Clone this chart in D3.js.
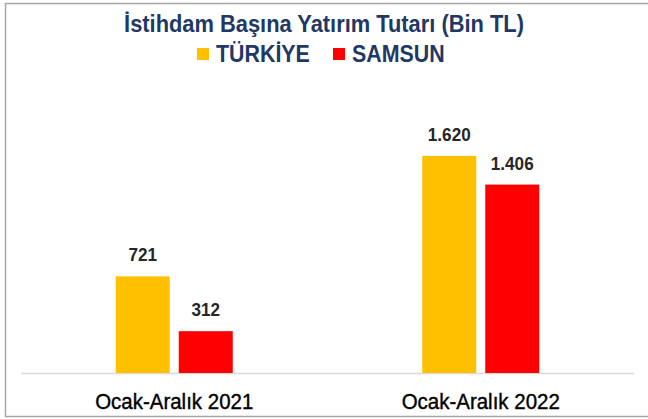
<!DOCTYPE html>
<html>
<head>
<meta charset="utf-8">
<script src="https://cdn.jsdelivr.net/npm/d3@7"></script>
<style>
  body { margin: 0; background: #fff; }
  svg { display: block; }
  text { font-family: "Liberation Sans", Arial, sans-serif; }
</style>
</head>
<body>
<svg width="648" height="419"></svg>
<script>
const categories = ["Ocak-Aralık 2021", "Ocak-Aralık 2022"];
const seriesNames = ["TÜRKİYE", "SAMSUN"];
const turkiyeValues = [721, 1620];
const samsunValues = [312, 1406];
const seriesColors = ["#FFC000", "#FF0000"];

const fmt = v => d3.format(",")(v).replace(/,/g, ".");

// squeeze text a bit so it looks like Arial Narrow
function narrow(sel, factor) {
    sel.each(function() {
        const w = this.getComputedTextLength();
        d3.select(this)
            .attr("textLength", w * factor)
            .attr("lengthAdjust", "spacingAndGlyphs");
    });
}

const svg = d3.select("svg"),
    width = 648,
    height = 419;

// outer frame
svg.append("rect")
    .attr("x", 5.5).attr("y", 3.5)
    .attr("width", 660).attr("height", 413)
    .attr("fill", "none")
    .attr("stroke", "#a6a6a6")
    .attr("stroke-width", 1.5);

svg.append("text")
    .attr("x", 324).attr("y", 32)
    .attr("text-anchor", "middle")
    .style("font-size", "23px")
    .style("font-weight", "bold")
    .style("fill", "#1F3864")
    .text("İstihdam Başına Yatırım Tutarı (Bin TL)")
    .call(narrow, 0.95);

// legend
const legendX = [197, 333];
const legend = svg.append("g");
seriesNames.forEach((name, i) => {
    legend.append("rect")
        .attr("x", legendX[i]).attr("y", 48)
        .attr("width", 12).attr("height", 12)
        .attr("fill", seriesColors[i]);
    legend.append("text")
        .attr("x", legendX[i] + 19).attr("y", 62)
        .style("font-size", "23px")
        .style("font-weight", "bold")
        .style("fill", "#1F3864")
        .text(name)
        .call(narrow, 0.93);
});

const baseY = 373;
const y = d3.scaleLinear()
    .domain([0, 2000])
    .range([baseY, baseY - 268]);

const x0 = d3.scaleBand()
    .domain(categories)
    .range([21, 634]);

const x1 = d3.scaleBand()
    .domain(seriesNames)
    .range([-58.5, 58.5])
    .paddingInner(0.143);

const rows = categories.map((c, i) => ({
    cat: c,
    vals: [turkiyeValues[i], samsunValues[i]]
}));

// baseline
svg.append("line")
    .attr("x1", 21).attr("x2", 634)
    .attr("y1", baseY + 0.5).attr("y2", baseY + 0.5)
    .attr("stroke", "#d9d9d9")
    .attr("stroke-width", 1.5);

const groups = svg.append("g")
    .selectAll("g")
    .data(rows)
    .enter()
    .append("g")
    .attr("transform", d => `translate(${x0(d.cat) + x0.bandwidth() / 2},0)`);

groups.selectAll("rect")
    .data(d => d.vals.map((v, i) => ({ name: seriesNames[i], value: v, color: seriesColors[i] })))
    .enter()
    .append("rect")
    .attr("x", d => x1(d.name))
    .attr("y", d => y(d.value))
    .attr("width", x1.bandwidth())
    .attr("height", d => baseY - y(d.value))
    .attr("fill", d => d.color);

groups.selectAll("text.val")
    .data(d => d.vals.map((v, i) => ({ name: seriesNames[i], value: v })))
    .enter()
    .append("text")
    .attr("class", "val")
    .attr("x", d => x1(d.name) + x1.bandwidth() / 2)
    .attr("y", d => y(d.value) - 15)
    .attr("text-anchor", "middle")
    .style("font-size", "19px")
    .style("font-weight", "bold")
    .style("fill", "#262626")
    .text(d => fmt(d.value))
    .call(narrow, 0.9);

// category labels
svg.append("g")
    .selectAll("text")
    .data(categories)
    .enter()
    .append("text")
    .attr("x", d => x0(d) + x0.bandwidth() / 2)
    .attr("y", 409)
    .attr("text-anchor", "middle")
    .style("font-size", "22px")
    .style("fill", "#000")
    .style("stroke", "#000")
    .style("stroke-width", 0.4)
    .text(d => d)
    .call(narrow, 0.93);
</script>
</body>
</html>
